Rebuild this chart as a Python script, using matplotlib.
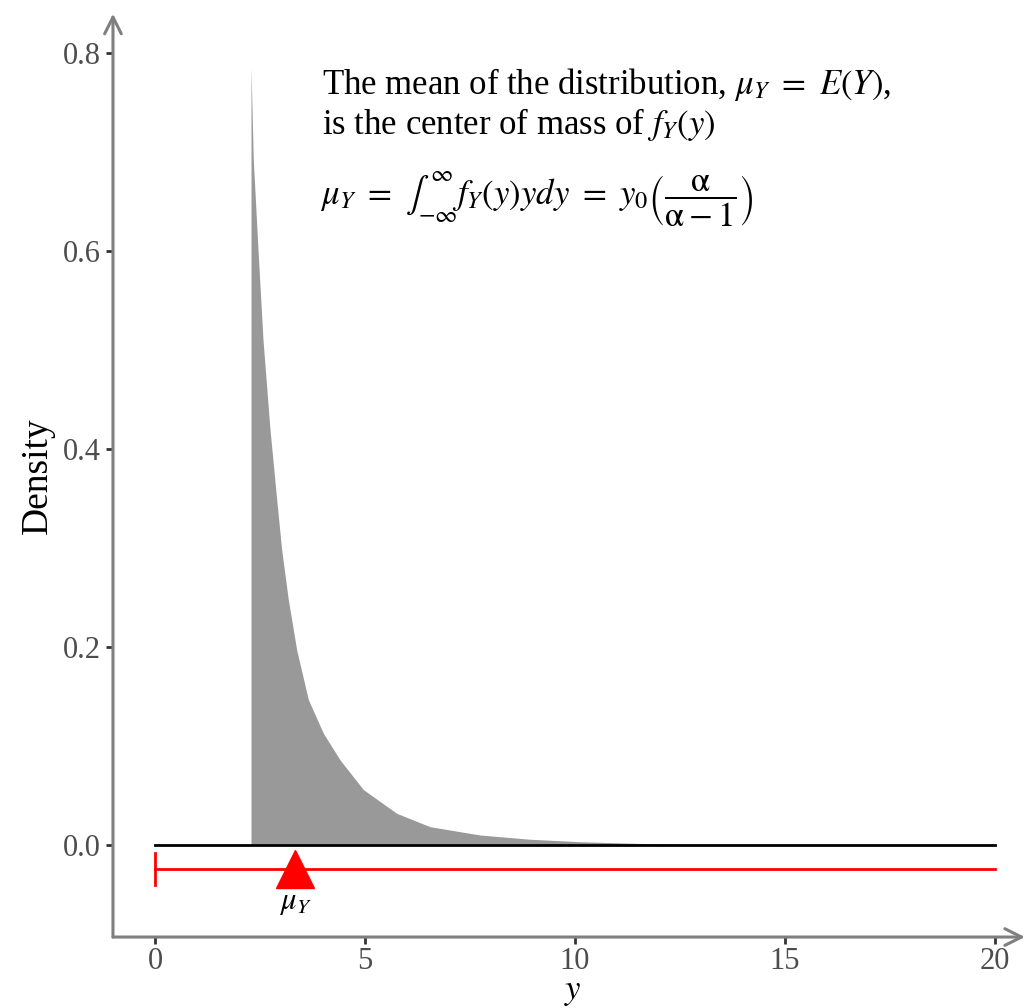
import numpy as np
import matplotlib
matplotlib.use('Agg')
import matplotlib.pyplot as plt

plt.rcParams['font.family'] = ['Liberation Serif', 'DejaVu Serif']
plt.rcParams['mathtext.fontset'] = 'stix'

# density curve
y_vals = [2.286, 2.286, 2.340, 2.452, 2.571, 2.738, 2.898, 3.017, 3.174,
          3.374, 3.650, 4.007, 4.405, 4.960, 5.755, 6.548, 7.738, 8.929,
          10.119, 12.43, 20.0]
dens = [0.0, 0.786, 0.693, 0.602, 0.511, 0.420, 0.349, 0.298, 0.248,
        0.197, 0.147, 0.113, 0.086, 0.056, 0.032, 0.0185, 0.0101, 0.0058,
        0.0033, 0.0005, 0.0]

x_range = [0, 20]
mu_y = 3.33
x_ticks = [0, 5, 10, 15, 20]
y_ticks = [0.0, 0.2, 0.4, 0.6, 0.8]

fig = plt.figure(figsize=(10.27, 10.08), dpi=100)
ax = fig.add_axes([0.110, 0.0704, 0.888, 0.916])

ax.fill_between(y_vals, dens, 0, color='#999999', lw=0, zorder=2)
ax.plot(x_range, [0, 0], color='black', lw=2, zorder=3)

# red bar with mean marker
ry = -0.0245
ax.plot(x_range, [ry, ry], color='red', lw=2, zorder=3)
ax.plot([x_range[0], x_range[0]], [ry - 0.016, ry + 0.016], color='red', lw=2, zorder=3)
ax.plot([mu_y], [ry], marker='^', ms=27, color='red', mec='red', zorder=4)
ax.text(mu_y, -0.058, r'$\mu_Y$', ha='center', va='center', fontsize=22)

ax.set_xlim(-1.0, 20.71)
ax.set_ylim(-0.093, 0.84)
ax.set_xticks(x_ticks)
ax.set_xticklabels([str(t) for t in x_ticks])
ax.set_yticks(y_ticks)
ax.set_yticklabels(['%.1f' % t for t in y_ticks])
ax.tick_params(labelsize=22, labelcolor='#4d4d4d', color='#333333',
               length=5, width=2)
ax.tick_params(axis='x', pad=2)

for s in ax.spines.values():
    s.set_visible(False)

arrow = dict(arrowstyle='->', color='#7f7f7f', lw=2.2, mutation_scale=30,
             shrinkA=0, shrinkB=0)
ax.annotate('', xy=(1, 0), xytext=(0, 0), xycoords='axes fraction',
            arrowprops=arrow, annotation_clip=False)
ax.annotate('', xy=(0, 1), xytext=(0, 0), xycoords='axes fraction',
            arrowprops=arrow, annotation_clip=False)

ax.set_ylabel('Density', fontsize=27, labelpad=6)
# x label placed by hand so it sits just under the tick labels
fig.text(0.558, 0.0, r'$y$', ha='center', va='bottom', fontsize=25)

tx = 3.98
ax.text(tx, 0.768, r'The mean of the distribution, $\mu_Y\ =\ E\left(Y\right)$,',
        ha='left', va='center', fontsize=25)
ax.text(tx, 0.728, r'is the center of mass of $f_Y\left(y\right)$',
        ha='left', va='center', fontsize=25)
ax.text(tx - 0.05, 0.652,
        r'$\mu_Y\ =\ \int_{-\infty}^{\infty} f_Y\left(y\right) y dy\ =\ y_0 \left(\dfrac{\mathrm{\alpha}}{\mathrm{\alpha} - 1}\right)$',
        ha='left', va='center', fontsize=25)

fig.savefig('out.png', dpi=100)
